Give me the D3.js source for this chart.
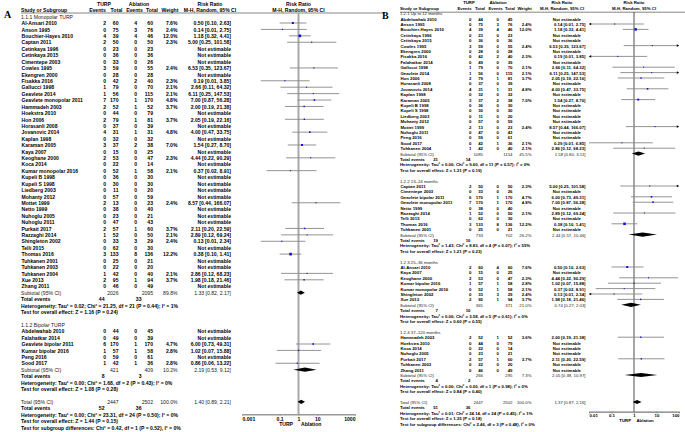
<!DOCTYPE html>
<html>
<head>
<meta charset="utf-8">
<script src="https://cdn.jsdelivr.net/npm/d3@7"></script>
<style>
html, body { margin: 0; padding: 0; background: #fff; }
svg { display: block; font-family: "Liberation Sans", Arial, sans-serif; }
</style>
</head>
<body>
<svg id="chart"></svg>
<script>
// study rows: name, TURP events, TURP total, ablation events, ablation total, weight %, RR, lower, upper
// (rows without weight are "Not estimable")
const aMonopolar = [
  ["Al-Ansari 2010", 2, 60, 4, 60, 7.6, 0.50, 0.10, 2.63],
  ["Anson 1995", 0, 75, 3, 76, 2.4, 0.14, 0.01, 2.75],
  ["Bouchier-Hayes 2010", 4, 39, 4, 46, 12.0, 1.18, 0.32, 4.41],
  ["Captan 2011", 2, 50, 0, 50, 2.3, 5.00, 0.25, 101.58],
  ["Cetinkaya 1996", 0, 23, 0, 23],
  ["Cetinkaya 2015", 0, 36, 0, 36],
  ["Cimentepe 2003", 0, 33, 0, 26],
  ["Cowles 1995", 3, 59, 0, 55, 2.4, 6.53, 0.35, 123.67],
  ["Ekengren 2000", 0, 28, 0, 28],
  ["Fisakka 2016", 0, 42, 2, 40, 2.3, 0.19, 0.01, 3.85],
  ["Gallucci 1998", 1, 79, 0, 70, 2.1, 2.66, 0.11, 64.32],
  ["Geavlete 2014", 1, 56, 0, 115, 2.1, 6.11, 0.25, 147.53],
  ["Geavlete monopolar 2011", 7, 170, 1, 170, 4.8, 7.00, 0.87, 56.28],
  ["Hammadeh 2003", 2, 52, 1, 52, 3.7, 2.00, 0.19, 21.38],
  ["Hoekstra 2010", 0, 44, 0, 79],
  ["Hon 2006", 2, 79, 1, 81, 3.7, 2.05, 0.19, 22.16],
  ["Horasanli 2008", 0, 37, 0, 39],
  ["Jovanovic 2014", 4, 31, 1, 31, 4.8, 4.00, 0.47, 33.75],
  ["Kaplan 1998", 0, 32, 0, 32],
  ["Karaman 2005", 3, 37, 2, 38, 7.0, 1.54, 0.27, 8.70],
  ["Kaya 2007", 0, 15, 0, 25],
  ["Keoghane 2000", 2, 53, 0, 47, 2.3, 4.44, 0.22, 90.29],
  ["Koca 2014", 0, 22, 0, 14],
  ["Kumar monopolar 2016", 0, 52, 1, 58, 2.1, 0.37, 0.02, 8.91],
  ["Kupeli B 1998", 0, 36, 0, 30],
  ["Kupeli S 1998", 0, 30, 0, 30],
  ["Liedberg 2003", 0, 11, 0, 20],
  ["Mohanty 2012", 0, 57, 0, 59],
  ["Mottet 1999", 2, 13, 0, 23, 2.4, 8.57, 0.44, 166.07],
  ["Netto 1999", 0, 38, 0, 40],
  ["Nuhoglu 2005", 0, 23, 0, 21],
  ["Nuhoglu 2011", 0, 47, 0, 43],
  ["Purkait 2017", 2, 57, 1, 60, 3.7, 2.11, 0.20, 22.59],
  ["Razzaghi 2014", 1, 52, 0, 50, 2.1, 2.89, 0.12, 69.24],
  ["Shingleton 2002", 0, 33, 3, 29, 2.4, 0.13, 0.01, 2.34],
  ["Telli 2015", 0, 62, 0, 30],
  ["Thomas 2016", 3, 133, 8, 136, 12.2, 0.38, 0.10, 1.41],
  ["Tuhkanen 2001", 0, 25, 0, 21],
  ["Tuhkanen 2003", 0, 22, 0, 20],
  ["Tuhkanen 2004", 1, 42, 0, 40, 2.1, 2.86, 0.12, 68.23],
  ["Xue 2013", 2, 95, 1, 94, 3.7, 1.98, 0.18, 21.46],
  ["Zhang 2011", 0, 46, 0, 49]
];
const aBipolar = [
  ["Abdelwahab 2010", 0, 44, 0, 45],
  ["Falahatkar 2014", 0, 49, 0, 39],
  ["Geavlete bipolar 2011", 6, 170, 1, 170, 4.7, 6.00, 0.73, 49.31],
  ["Kumar bipolar 2016", 1, 57, 1, 58, 2.8, 1.02, 0.07, 15.88],
  ["Peng 2016", 0, 59, 0, 61],
  ["Sood 2017", 1, 42, 1, 36, 2.8, 0.86, 0.06, 13.22]
];

// lower limits under 0.01 (arrow at the left edge of panel B) are estimates
const bUpTo12 = [
  ["Abdelwahab 2010", 0, 44, 0, 45],
  ["Anson 1995", 0, 75, 3, 76, 2.4, 0.14, 0.008, 2.75],
  ["Bouchier-Hayes 2010", 4, 39, 4, 46, 12.0, 1.18, 0.32, 4.41],
  ["Cetinkaya 1996", 0, 23, 0, 23],
  ["Cetinkaya 2015", 0, 36, 0, 36],
  ["Cowles 1995", 3, 59, 0, 55, 2.4, 6.53, 0.35, 123.67],
  ["Ekengren 2000", 0, 28, 0, 28],
  ["Fisakka 2016", 0, 42, 2, 40, 2.3, 0.19, 0.009, 3.85],
  ["Falahatkar 2014", 0, 49, 0, 39],
  ["Gallucci 1998", 1, 79, 0, 70, 2.1, 2.66, 0.11, 64.32],
  ["Geavlete 2014", 1, 56, 0, 115, 2.1, 6.11, 0.25, 147.53],
  ["Hon 2006", 2, 79, 1, 81, 3.7, 2.05, 0.19, 22.16],
  ["Horasanli 2008", 0, 37, 0, 39],
  ["Jovanovic 2014", 4, 31, 1, 31, 4.8, 4.00, 0.47, 33.75],
  ["Kaplan 1998", 0, 32, 0, 32],
  ["Karaman 2005", 3, 37, 2, 38, 7.0, 1.54, 0.27, 8.70],
  ["Kupeli B 1998", 0, 36, 0, 30],
  ["Kupeli S 1998", 0, 30, 0, 30],
  ["Liedberg 2003", 0, 11, 0, 20],
  ["Mohanty 2012", 0, 57, 0, 59],
  ["Mottet 1999", 2, 13, 0, 23, 2.4, 8.57, 0.44, 166.07],
  ["Nuhoglu 2011", 0, 47, 0, 43],
  ["Peng 2016", 0, 59, 0, 61],
  ["Sood 2017", 0, 42, 1, 36, 2.1, 0.29, 0.01, 6.85],
  ["Tuhkanen 2004", 1, 42, 0, 40, 2.1, 2.86, 0.12, 68.23]
];
const b13to24 = [
  ["Captan 2011", 2, 50, 0, 50, 2.3, 5.00, 0.25, 101.58],
  ["Cimentepe 2003", 0, 33, 0, 26],
  ["Geavlete bipolar 2011", 6, 170, 1, 170, 4.7, 6.00, 0.73, 49.31],
  ["Geavlete monopolar 2011", 7, 170, 1, 170, 4.8, 7.00, 0.87, 56.28],
  ["Netto 1999", 0, 38, 0, 40],
  ["Razzaghi 2014", 1, 52, 0, 50, 2.1, 2.89, 0.12, 69.24],
  ["Telli 2015", 0, 62, 0, 30],
  ["Thomas 2016", 3, 133, 8, 136, 12.2, 0.38, 0.10, 1.41],
  ["Tuhkanen 2001", 0, 25, 0, 21]
];
const b25to36 = [
  ["Al-Ansari 2010", 2, 60, 4, 60, 7.6, 0.50, 0.10, 2.63],
  ["Kaya 2007", 0, 15, 0, 25],
  ["Keoghane 2000", 2, 53, 0, 47, 2.3, 4.44, 0.22, 90.29],
  ["Kumar bipolar 2016", 1, 57, 1, 58, 2.8, 1.02, 0.07, 15.88],
  ["Kumar monopolar 2016", 0, 52, 1, 58, 2.1, 0.37, 0.02, 8.91],
  ["Shingleton 2002", 0, 33, 3, 29, 2.4, 0.13, 0.007, 2.34],
  ["Xue 2013", 2, 95, 1, 94, 3.7, 1.98, 0.18, 21.46]
];
const b37to120 = [
  ["Hammadeh 2003", 2, 52, 1, 52, 3.6, 2.00, 0.19, 21.38],
  ["Hoekstra 2010", 0, 44, 0, 79],
  ["Koca 2014", 0, 22, 0, 14],
  ["Nuhoglu 2005", 0, 23, 0, 21],
  ["Purkait 2017", 2, 57, 1, 60, 3.7, 2.11, 0.20, 22.59],
  ["Tuhkanen 2003", 0, 22, 0, 20],
  ["Zhang 2011", 0, 46, 0, 49]
];

// subtotals: TURP total, ablation total, weight %, RR, lower, upper
const aSubtotals = [[2026, 2095, 89.8, 1.33, 0.82, 2.17], [421, 409, 10.2, 2.19, 0.53, 9.12]];
const aEventSums = [[44, 33], [8, 3]];
const aHeterogeneity = [
  "Heterogeneity: Tau² = 0.02; Chi² = 21.25, df = 21 (P = 0.44); I² = 1%",
  "Heterogeneity: Tau² = 0.00; Chi² = 1.68, df = 2 (P = 0.43); I² = 0%"
];
const aOverallTests = ["Test for overall effect: Z = 1.16 (P = 0.24)", "Test for overall effect: Z = 1.08 (P = 0.28)"];
const aGroupNames = ["1.1.1 Monopolar TURP", "1.1.2 Bipolar TURP"];
const aTotal = [2447, 2502, 100.0, 1.40, 0.89, 2.21];
const aTotalEvents = [52, 36];
const aTotalTexts = [
  "Heterogeneity: Tau² = 0.00; Chi² = 23.31, df = 24 (P = 0.50); I² = 0%",
  "Test for overall effect: Z = 1.44 (P = 0.15)",
  "Test for subgroup differences: Chi² = 0.42, df = 1 (P = 0.52), I² = 0%"
];

const bSubtotals = [
  [1085, 1154, 45.5, 1.58, 0.80, 3.11], [733, 702, 26.2, 2.44, 0.57, 10.46],
  [365, 371, 21.0, 0.74, 0.27, 2.03], [266, 295, 7.3, 2.05, 0.38, 10.97]
];
const bEventSums = [[21, 14], [19, 10], [7, 10], [4, 2]];
const bHeterogeneity = [
  "Heterogeneity: Tau² = 0.00; Chi² = 9.60, df = 11 (P = 0.57); I² = 0%",
  "Heterogeneity: Tau² = 1.43; Chi² = 8.83, df = 4 (P = 0.07); I² = 55%",
  "Heterogeneity: Tau² = 0.00; Chi² = 3.58, df = 5 (P = 0.61); I² = 0%",
  "Heterogeneity: Tau² = 0.00; Chi² = 0.00, df = 1 (P = 0.98); I² = 0%"
];
const bOverallTests = [
  "Test for overall effect: Z = 1.31 (P = 0.19)", "Test for overall effect: Z = 1.21 (P = 0.23)",
  "Test for overall effect: Z = 0.60 (P = 0.55)", "Test for overall effect: Z = 0.84 (P = 0.40)"
];
const bGroupNames = ["1.2.1 Up to 12 months", "1.2.2 13–24 months", "1.2.3 25–36 months", "1.2.4 37–120 months"];
const bTotal = [2447, 2502, 100.0, 1.37, 0.87, 2.16];
const bTotalEvents = [51, 36];
const bTotalTexts = [
  "Heterogeneity: Tau² = 0.01; Chi² = 24.14, df = 24 (P = 0.45); I² = 1%",
  "Test for overall effect: Z = 1.35 (P = 0.18)",
  "Test for subgroup differences: Chi² = 2.46, df = 3 (P = 0.48), I² = 0%"
];

const aTicks = [0.001, 0.1, 1, 10, 1000];
const aTickLabels = ["0.001", "0.1", "1", "10", "1000"];
const bTicks = [0.01, 0.1, 1, 10, 100];
const bTickLabels = ["0.01", "0.1", "1", "10", "100"];

// ---- layout ----
const aLayout = {
  letter: "A", lx: 4, ly: 18,
  sx: 21, evT: 106, totT: 118.5, evA: 137, totA: 153, wt: 177.5, rr: 231, ne: 231,
  sumEv1: 104.5, sumEv2: 141.5,
  hTurp: 104, hAbl: 139, hRR: 210, hEv1: 97.5, hTot1: 116.5, hEv2: 134.5, hTot2: 152, hW: 170,
  domain: [0.001, 1000], range: [242, 355],
  y0: 23, dy: 6.42, fs: 5.1, base: 2.2, sq: 0.75, dh: 4.2,
  lineY: 13, lineEnd: 385, vTop: 13, axisY: 414.3, turpGap: 5.5,
  refColor: "#a9a9a9", refWidth: 2, ciColor: "#888", axisColor: "#999", axisWidth: 1.5,
  ticks: aTicks, tickLabels: aTickLabels
};
const bLayout = {
  letter: "B", lx: 382, ly: 18.5,
  sx: 400, evT: 471.5, totT: 483, evA: 499, totA: 512.5, wt: 531.5, rr: 585.5, ne: 581,
  sumEv1: 438, sumEv2: 470.5,
  hTurp: 469, hAbl: 498, hRR: 562, hEv1: 464.5, hTot1: 480, hEv2: 495.5, hTot2: 510, hW: 524.5,
  domain: [0.01, 100], range: [589, 679],
  y0: 18.6, dy: 5.4, fs: 4.3, base: 2.0, sq: 0.72, dh: 4.2,
  lineY: 12.2, lineEnd: 685, vTop: 12.2, axisY: 411.7, turpGap: 3,
  refColor: "#222", refWidth: 0.8, ciColor: "#888", axisColor: "#777", axisWidth: 1.2,
  ticks: bTicks, tickLabels: bTickLabels
};

const W = 685, H = 432;
const svg = d3.select("#chart").attr("width", W).attr("height", H);
svg.append("rect").attr("width", W).attr("height", H).attr("fill", "#fff");

const fmtRR = (rr, lo, hi) => `${rr.toFixed(2)} [${lo.toFixed(2)}, ${hi.toFixed(2)}]`;

function drawPanel(L, groups, names, subtotals, eventSums, hets, tests, total, totalEvents, totalTexts) {
  const g = svg.append("g");
  const x = d3.scaleLog().domain(L.domain).range(L.range);
  const y = r => L.y0 + r * L.dy;

  function txt(str, xx, r, anchor, bold) {
    g.append("text")
      .attr("x", xx).attr("y", y(r) + L.base)
      .attr("text-anchor", anchor || "start")
      .attr("font-size", L.fs)
      .attr("font-weight", bold === false ? "normal" : "bold")
      .attr("fill", bold === false ? "#222" : "#000")
      .text(str);
  }

  // panel letter
  g.append("text").attr("x", L.lx).attr("y", L.ly)
    .attr("font-family", "'Liberation Serif', 'DejaVu Serif', serif")
    .attr("font-weight", "bold").attr("font-size", 10).text(L.letter);

  // header
  txt("TURP", L.hTurp, -3, "middle");
  txt("Ablation", L.hAbl, -3, "middle");
  txt("Risk Ratio", L.hRR, -3, "middle");
  txt("Risk Ratio", x(1), -3, "middle");
  txt("Study or Subgroup", L.sx, -2);
  txt("Events", L.hEv1, -2, "middle");
  txt("Total", L.hTot1, -2, "middle");
  txt("Events", L.hEv2, -2, "middle");
  txt("Total", L.hTot2, -2, "middle");
  txt("Weight", L.hW, -2, "middle");
  txt("M-H, Random, 95% CI", L.hRR, -2, "middle");
  txt("M-H, Random, 95% CI", x(1), -2, "middle");
  g.append("line")
    .attr("x1", L.sx).attr("x2", L.lineEnd)
    .attr("y1", L.lineY).attr("y2", L.lineY)
    .attr("stroke", "#333").attr("stroke-width", 0.6);

  // reference line at RR = 1
  g.append("line")
    .attr("x1", x(1)).attr("x2", x(1))
    .attr("y1", L.vTop).attr("y2", L.axisY)
    .attr("stroke", L.refColor).attr("stroke-width", L.refWidth);

  const [x0, x1] = L.range;

  function diamond(rr, lo, hi, r) {
    const yy = y(r), h = L.dh / 2;
    g.append("path")
      .attr("d", `M${x(lo)},${yy}L${x(rr)},${yy - h}L${x(hi)},${yy}L${x(rr)},${yy + h}Z`)
      .attr("fill", "#000");
  }

  function summaryRows(r, label, s, ev, het, test) {
    txt(label, L.sx, r, "start", false);
    txt(s[0], L.totT, r, "end", false);
    txt(s[1], L.totA, r, "end", false);
    txt(s[2].toFixed(1) + "%", L.wt, r, "end", false);
    txt(fmtRR(s[3], s[4], s[5]), L.rr, r, "end", false);
    diamond(s[3], s[4], s[5], r);
    txt("Total events", L.sx, r + 1);
    txt(ev[0], L.sumEv1, r + 1, "end");
    txt(ev[1], L.sumEv2, r + 1, "end");
    txt(het, L.sx, r + 2);
    txt(test, L.sx, r + 3);
  }

  let r = -1;
  groups.forEach((rows, gi) => {
    txt(names[gi], L.sx, r, "start", false);
    r++;
    rows.forEach(d => {
      txt(d[0], L.sx + 0.5, r);
      txt(d[1], L.evT, r, "end");
      txt(d[2], L.totT, r, "end");
      txt(d[3], L.evA, r, "end");
      txt(d[4], L.totA, r, "end");
      if (d[5] == null) {
        txt("Not estimable", L.ne, r, "end");
      } else {
        const [w, rr, lo, hi] = d.slice(5);
        txt(w.toFixed(1) + "%", L.wt, r, "end");
        txt(fmtRR(rr, lo, hi), L.rr, r, "end");
        const yy = y(r);
        const xa = Math.max(x(lo), x0), xb = Math.min(x(hi), x1);
        g.append("line")
          .attr("x1", xa).attr("x2", xb).attr("y1", yy).attr("y2", yy)
          .attr("stroke", L.ciColor).attr("stroke-width", 0.9);
        if (lo < L.domain[0]) {
          g.append("path").attr("d", `M${x0},${yy}L${x0 + 2.2},${yy - 1.3}L${x0 + 2.2},${yy + 1.3}Z`).attr("fill", "#000");
        }
        if (hi > L.domain[1]) {
          g.append("path").attr("d", `M${x1},${yy}L${x1 - 2.2},${yy - 1.3}L${x1 - 2.2},${yy + 1.3}Z`).attr("fill", "#000");
        }
        const s = L.sq * Math.sqrt(w);
        g.append("rect")
          .attr("x", x(rr) - s / 2).attr("y", yy - s / 2)
          .attr("width", s).attr("height", s)
          .attr("fill", "#1010e0");
      }
      r++;
    });
    summaryRows(r, "Subtotal (95% CI)", subtotals[gi], eventSums[gi], hets[gi], tests[gi]);
    r += 5;
  });

  summaryRows(r, "Total (95% CI)", total, totalEvents, totalTexts[0], totalTexts[1]);
  txt(totalTexts[2], L.sx, r + 4);

  // axis; the end labels sit inside the axis span
  const last = L.ticks.length - 1;
  const axis = d3.axisBottom(x)
    .tickValues(L.ticks)
    .tickFormat((d, i) => L.tickLabels[i])
    .tickSize(1.8).tickSizeOuter(0).tickPadding(0.8);
  const ax = g.append("g").attr("transform", `translate(0,${L.axisY})`).call(axis);
  ax.select(".domain").attr("stroke", L.axisColor).attr("stroke-width", L.axisWidth);
  ax.selectAll(".tick line").attr("stroke", L.axisColor).attr("stroke-width", 0.8);
  ax.selectAll(".tick text")
    .attr("font-size", L.fs).attr("font-weight", "bold").attr("fill", "#000")
    .attr("font-family", "'Liberation Sans', Arial, sans-serif")
    .attr("text-anchor", (d, i) => i === 0 ? "start" : i === last ? "end" : "middle");

  const labY = L.axisY + L.fs * 2.35;
  g.append("text").attr("x", x(1) - L.turpGap).attr("y", labY).attr("text-anchor", "end")
    .attr("font-size", L.fs).attr("font-weight", "bold").text("TURP");
  g.append("text").attr("x", x(1) + 2.5).attr("y", labY).attr("text-anchor", "start")
    .attr("font-size", L.fs).attr("font-weight", "bold").text("Ablation");
}

drawPanel(aLayout, [aMonopolar, aBipolar], aGroupNames, aSubtotals, aEventSums,
  aHeterogeneity, aOverallTests, aTotal, aTotalEvents, aTotalTexts);
drawPanel(bLayout, [bUpTo12, b13to24, b25to36, b37to120], bGroupNames, bSubtotals, bEventSums,
  bHeterogeneity, bOverallTests, bTotal, bTotalEvents, bTotalTexts);
</script>
</body>
</html>
